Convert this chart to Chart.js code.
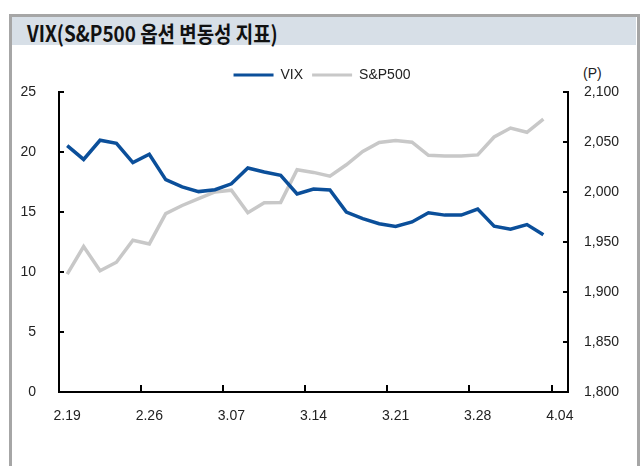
<!DOCTYPE html>
<html>
<head>
<meta charset="utf-8">
<script src="https://cdn.jsdelivr.net/npm/chart.js@4.4.0/dist/chart.umd.min.js"></script>
<style>
body { margin:0; background:#fff; width:644px; height:466px; overflow:hidden; position:relative; font-family:"Liberation Sans", Arial, sans-serif; }
.frame { position:absolute; left:9px; top:14px; width:625px; height:460px; border:3px solid #a6a6a6; border-bottom:none; }
.head { position:absolute; left:12px; top:17px; width:624px; height:28px; background:#d7dfe7; }
.title { position:absolute; left:27px; top:16px; font-family:"Noto Sans CJK KR", sans-serif; font-weight:bold; font-size:22px; color:#111; white-space:nowrap; transform:scaleX(0.86); transform-origin:left top; }
.unit { position:absolute; left:583px; top:65px; font-size:14px; color:#222; }
#wrap { position:absolute; left:0; top:0; width:644px; height:466px; }
</style>
</head>
<body>
<div class="frame"></div>
<div class="head"></div>
<div class="title">VIX(S&amp;P500 옵션 변동성 지표)</div>
<div class="unit">(P)</div>
<div id="wrap"><canvas id="myChart"></canvas></div>
<script>
// dates (last one has no data yet)
const dates = ['2.19','2.22','2.23','2.24','2.25','2.26','3.01','3.02','3.03','3.04',
               '3.07','3.08','3.09','3.10','3.11','3.14','3.15','3.16','3.17','3.18',
               '3.21','3.22','3.23','3.24','3.25','3.28','3.29','3.30','3.31','4.01','4.04'];
const vix = [20.53,19.38,20.98,20.72,19.11,19.81,17.70,17.09,16.70,16.86,
             17.35,18.67,18.34,18.05,16.50,16.92,16.84,14.99,14.44,14.02,
             13.79,14.17,14.94,14.74,14.74,15.24,13.82,13.56,13.95,13.10];
const spx = [1917.8,1945.5,1921.3,1929.8,1951.7,1948.1,1978.4,1986.5,1993.4,2000.0,
             2001.8,1979.3,1989.3,1989.6,2022.2,2019.6,2015.9,2027.2,2040.6,2049.6,
             2051.6,2049.8,2036.7,2035.9,2035.9,2037.1,2055.0,2064.0,2059.7,2072.8];
const labelEvery = 5;
const leftMin = 0, leftMax = 25, leftStep = 5;
const rightMin = 1800, rightMax = 2100, rightStep = 50;

const blue = '#0b4f9a';
const gray = '#c8c8c8';
const txt = '#222';
const font = { family: '"Liberation Sans", Arial, sans-serif', size: 14 };

// tick marks pointing into the plot, like the original
const inwardTicks = {
    id: 'inwardTicks',
    afterDatasetsDraw: function(chart) {
        const ctx = chart.ctx;
        const area = chart.chartArea;
        const x = chart.scales.x, y = chart.scales.y, y1 = chart.scales.y1;
        const step = (area.right - area.left) / dates.length;
        ctx.save();
        ctx.strokeStyle = '#000';
        ctx.lineWidth = 2;
        ctx.beginPath();
        for (let i = labelEvery; i <= dates.length; i += labelEvery) {
            let px = Math.round(area.left + step * i);
            ctx.moveTo(px, area.bottom);
            ctx.lineTo(px, area.bottom - 7);
        }
        for (let v = leftMin; v <= leftMax; v += leftStep) {
            let py = Math.round(y.getPixelForValue(v));
            ctx.moveTo(area.left, py);
            ctx.lineTo(area.left + 5, py);
        }
        for (let v = rightMin; v <= rightMax; v += rightStep) {
            let py = Math.round(y1.getPixelForValue(v));
            ctx.moveTo(area.right, py);
            ctx.lineTo(area.right - 5, py);
        }
        ctx.stroke();
        ctx.restore();
    }
};

const config = {
    type: 'line',
    data: {
        labels: dates,
        datasets: [{
            label: 'VIX',
            data: vix,
            yAxisID: 'y',
            borderColor: blue,
            backgroundColor: blue,
            borderWidth: 3.5,
            pointRadius: 0,
            tension: 0
        }, {
            label: 'S&P500',
            data: spx,
            yAxisID: 'y1',
            borderColor: gray,
            backgroundColor: gray,
            borderWidth: 3.5,
            pointRadius: 0,
            tension: 0
        }]
    },
    options: {
        responsive: true,
        maintainAspectRatio: false,
        animation: false,
        layout: { padding: { top: 59, left: 0, right: 0, bottom: 0 } },
        plugins: {
            tooltip: { enabled: false },
            legend: {
                display: true,
                position: 'top',
                labels: {
                    boxWidth: 40,
                    boxHeight: 3,
                    padding: 9,
                    color: txt,
                    font: font,
                    generateLabels: function(chart) {
                        let items = Chart.defaults.plugins.legend.labels.generateLabels(chart);
                        items.forEach(it => { it.lineWidth = 0; });
                        return items;
                    }
                }
            }
        },
        scales: {
            x: {
                type: 'category',
                offset: true,
                grid: { display: false },
                border: { display: true, color: '#000', width: 2 },
                ticks: {
                    autoSkip: false,
                    maxRotation: 0,
                    padding: 8,
                    color: txt,
                    font: font,
                    callback: function(v, i) { return i % labelEvery === 0 ? dates[i] : ''; }
                },
                afterFit: function(s) { s.height = 74; }
            },
            y: {
                position: 'left',
                min: leftMin,
                max: leftMax,
                grid: { display: false },
                border: { display: true, color: '#000', width: 2 },
                ticks: { stepSize: leftStep, padding: 15, color: txt, font: font },
                afterFit: function(s) { s.width = 59; }
            },
            y1: {
                position: 'right',
                min: rightMin,
                max: rightMax,
                grid: { display: false },
                border: { display: true, color: '#000', width: 2 },
                ticks: {
                    stepSize: rightStep,
                    padding: 8,
                    color: txt,
                    font: font,
                    callback: function(v) { return v.toLocaleString('en-US'); }
                },
                afterFit: function(s) { s.width = 76; }
            }
        }
    },
    plugins: [inwardTicks]
};

const myChart = new Chart(document.getElementById('myChart'), config);
</script>
</body>
</html>
